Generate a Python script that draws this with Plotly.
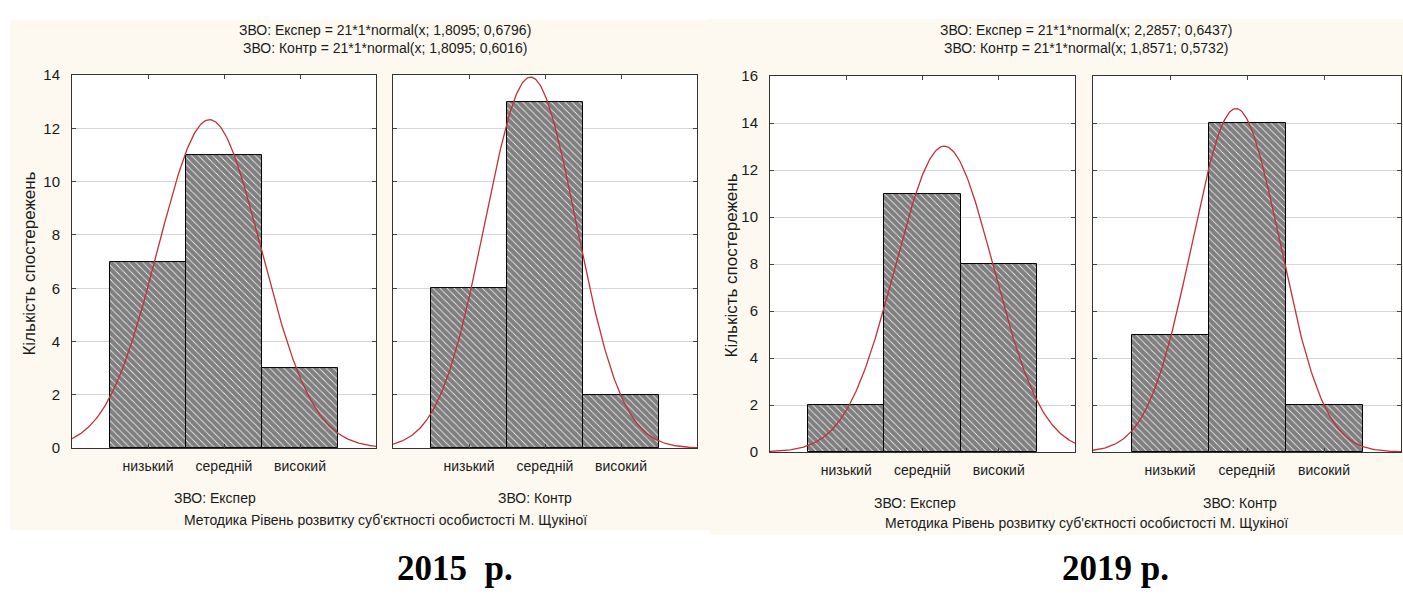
import numpy as np
import plotly.graph_objects as go

W, H = 1403, 599

categories = ["низький", "середній", "високий"]
cat_pos = [1, 2, 3]

# 2015
exp_2015 = [7, 11, 3]
ctr_2015 = [6, 13, 2]
# 2019
exp_2019 = [2, 11, 8]
ctr_2019 = [5, 14, 2]

# fitted normal parameters as stated in chart titles: (n, mean, sd)
fit_exp_2015 = (21, 1.8095, 0.6796)
fit_ctr_2015 = (21, 1.8095, 0.6016)
fit_exp_2019 = (21, 2.2857, 0.6437)
fit_ctr_2019 = (21, 1.8571, 0.5732)

titles = [
    "ЗВО: Експер = 21*1*normal(x; 1,8095; 0,6796)<br>ЗВО: Контр = 21*1*normal(x; 1,8095; 0,6016)",
    "ЗВО: Експер = 21*1*normal(x; 2,2857; 0,6437)<br>ЗВО: Контр = 21*1*normal(x; 1,8571; 0,5732)",
]
group_labels = ["ЗВО: Експер", "ЗВО: Контр"]
method_label = "Методика Рівень розвитку суб'єктності особистості М. Щукіної"
y_title = "Кількість спостережень"
years = ["2015&nbsp;&nbsp;р.", "2019 р."]


def px(x):
    return x / W


def py(y):
    return 1 - y / H


FONT = "Liberation Sans, Arial, sans-serif"
TXT = "#1a1a1a"
CURVE = "#c4303a"

fig = go.Figure()

panels = [
    # (values, fit, xdomain px, ydomain px, ymax, show y labels)
    (exp_2015, fit_exp_2015, (72, 376), (68, 452), 14, True),
    (ctr_2015, fit_ctr_2015, (393, 697), (68, 452), 14, False),
    (exp_2019, fit_exp_2019, (770, 1075), (69, 456), 16, True),
    (ctr_2019, fit_ctr_2019, (1093, 1401), (69, 456), 16, False),
]

shapes = [
    dict(type="rect", xref="paper", yref="paper", layer="below",
         x0=px(10), x1=px(709), y0=py(536), y1=py(11),
         fillcolor="#fdf9f0", line=dict(width=0)),
    dict(type="rect", xref="paper", yref="paper", layer="below",
         x0=px(709), x1=px(1403), y0=py(541), y1=py(10),
         fillcolor="#fdf9f0", line=dict(width=0)),
]

xs = np.linspace(0, 4, 300)
for i, (vals, fit, xd, yd, ymax, showy) in enumerate(panels):
    k = "" if i == 0 else str(i + 1)
    shapes.append(dict(type="rect", xref="paper", yref="paper", layer="below",
                       x0=px(xd[0]), x1=px(xd[1]), y0=py(yd[1]), y1=py(yd[0]),
                       fillcolor="white", line=dict(width=0)))
    fig.add_trace(go.Bar(
        x=cat_pos, y=vals, width=1.0,
        marker=dict(color="white", line=dict(color="black", width=1),
                    pattern=dict(shape="\\", fgcolor="black", bgcolor="white",
                                 size=5, solidity=0.85)),
        xaxis="x" + k, yaxis="y" + k, showlegend=False,
    ))
    n, mu, sd = fit
    ys = n * np.exp(-0.5 * ((xs - mu) / sd) ** 2) / (sd * np.sqrt(2 * np.pi))
    fig.add_trace(go.Scatter(
        x=xs, y=ys, mode="lines", line=dict(color=CURVE, width=1.3),
        xaxis="x" + k, yaxis="y" + k, showlegend=False,
    ))
    fig.layout["xaxis" + k] = dict(
        domain=[px(xd[0]), px(xd[1])], range=[0, 4], anchor="y" + k,
        tickvals=cat_pos, ticktext=categories, ticks="inside", ticklen=4,
        mirror="allticks", showline=True, linecolor="#333", linewidth=1,
        showgrid=False, zeroline=False, ticklabelstandoff=5,
        tickfont=dict(family=FONT, size=14, color=TXT),
    )
    fig.layout["yaxis" + k] = dict(
        domain=[py(yd[1]), py(yd[0])], range=[0, ymax], anchor="x" + k,
        dtick=2, ticks="inside", ticklen=4, mirror="allticks",
        showline=True, linecolor="#333", linewidth=1,
        showgrid=True, gridcolor="#d6d6d6", gridwidth=1, zeroline=False,
        showticklabels=showy, ticklabelstandoff=8,
        tickfont=dict(family=FONT, size=15, color=TXT),
    )

fig.update_layout(
    width=W, height=H, margin=dict(l=0, r=0, t=0, b=0),
    paper_bgcolor="white", plot_bgcolor="white", bargap=0,
    shapes=shapes,
)

ann = []
# titles
for cx, t in [(385, titles[0]), (1086, titles[1])]:
    ann.append(dict(x=px(cx), y=py(31), xref="paper", yref="paper", text=t,
                    showarrow=False, font=dict(family=FONT, size=14, color=TXT),
                    xanchor="center", yanchor="middle"))
# y titles
for cx, cy in [(30, 262), (732, 264)]:
    ann.append(dict(x=px(cx), y=py(cy), xref="paper", yref="paper", text=y_title,
                    textangle=-90, showarrow=False,
                    font=dict(family=FONT, size=17, color=TXT),
                    xanchor="center", yanchor="middle"))
# group labels
for cx, cy, t in [(215, 503, group_labels[0]), (535, 503, group_labels[1]),
                  (915, 508, group_labels[0]), (1240, 508, group_labels[1])]:
    ann.append(dict(x=px(cx), y=py(cy), xref="paper", yref="paper", text=t,
                    showarrow=False, font=dict(family=FONT, size=14, color=TXT),
                    xanchor="center", yanchor="middle"))
for cx, cy in [(385, 526), (1086, 529)]:
    ann.append(dict(x=px(cx), y=py(cy), xref="paper", yref="paper", text=method_label,
                    showarrow=False, font=dict(family=FONT, size=14, color=TXT),
                    xanchor="center", yanchor="middle"))
# years
for cx, t in [(455, years[0]), (1115, years[1])]:
    ann.append(dict(x=px(cx), y=py(576), xref="paper", yref="paper", text="<b>" + t + "</b>",
                    showarrow=False,
                    font=dict(family="Liberation Serif, Times New Roman, serif", size=35, color="black"),
                    xanchor="center", yanchor="middle"))
fig.update_layout(annotations=ann)

fig.write_html("out.html")
